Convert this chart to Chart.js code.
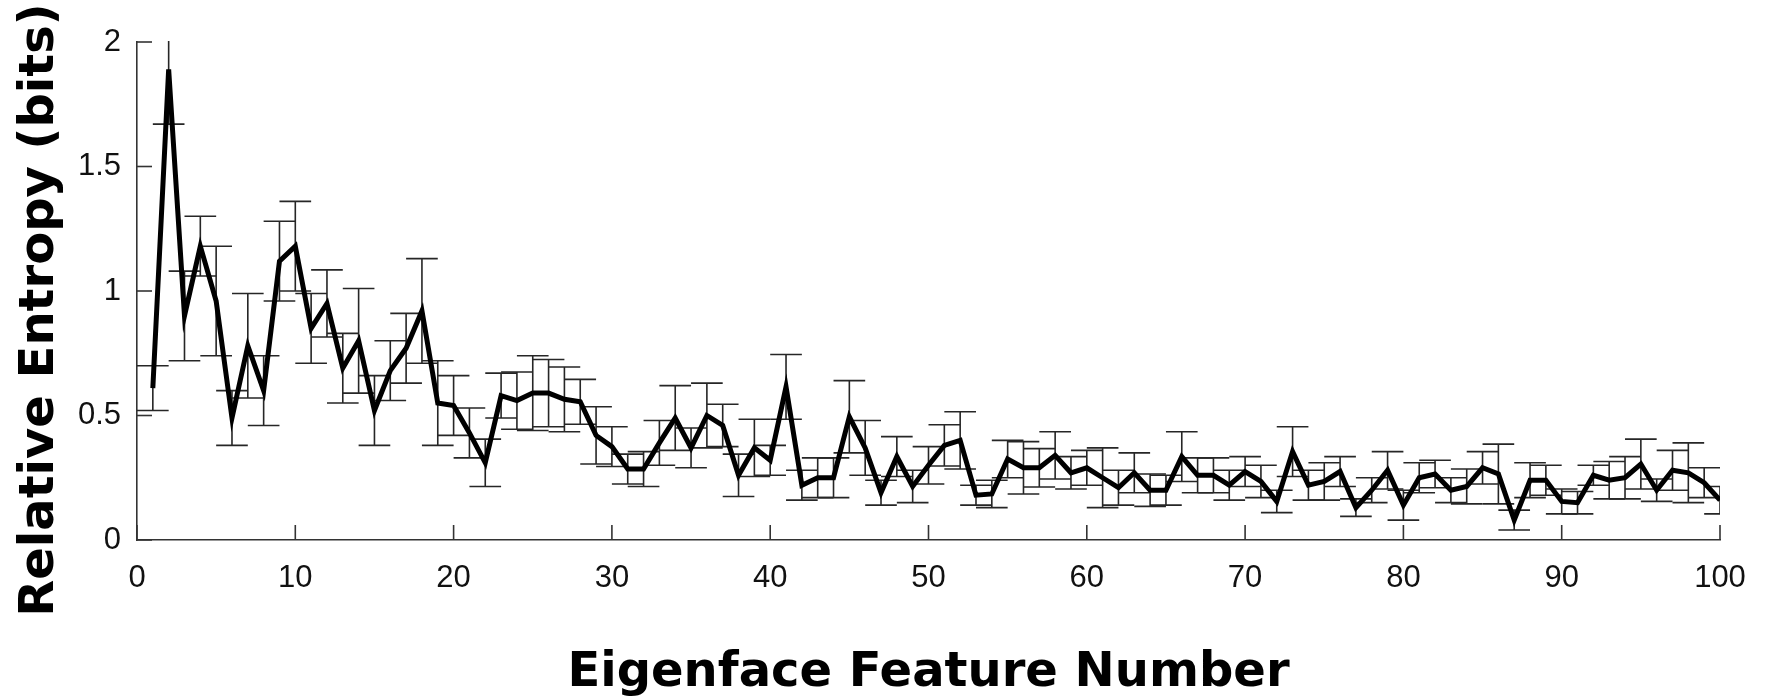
<!DOCTYPE html>
<html>
<head>
<meta charset="utf-8">
<script src="https://cdn.jsdelivr.net/npm/chart.js@4.4.0/dist/chart.umd.min.js"></script>
<style>
  html, body { margin: 0; padding: 0; background: #fff; }
  #wrap { width: 1769px; height: 697px; }
</style>
</head>
<body>
<div id="wrap"><canvas id="chart"></canvas></div>
<script>
// Eigenface feature numbers
const features = Array.from({ length: 100 }, (_, i) => i + 1);

// Mean relative entropy per feature (bits)
const entropy = [
  0.61, 1.89, 0.90, 1.18, 0.96, 0.49, 0.78, 0.60, 1.12, 1.18,
  0.85, 0.95, 0.69, 0.80, 0.52, 0.68, 0.77, 0.92, 0.55, 0.54,
  0.43, 0.31, 0.58, 0.56, 0.59, 0.59, 0.565, 0.555, 0.42, 0.375,
  0.285, 0.285, 0.39, 0.49, 0.37, 0.50, 0.46, 0.26, 0.37, 0.32,
  0.615, 0.22, 0.25, 0.25, 0.495, 0.37, 0.19, 0.335, 0.215, 0.30,
  0.38, 0.40, 0.18, 0.185, 0.325, 0.29, 0.29, 0.34, 0.27, 0.29,
  0.25, 0.21, 0.27, 0.20, 0.20, 0.335, 0.26, 0.26, 0.22, 0.275,
  0.235, 0.155, 0.355, 0.22, 0.235, 0.275, 0.13, 0.20, 0.28, 0.14,
  0.25, 0.265, 0.20, 0.215, 0.29, 0.265, 0.08, 0.24, 0.24, 0.155,
  0.15, 0.26, 0.24, 0.25, 0.305, 0.20, 0.28, 0.27, 0.23, 0.16
];

// Error bar half-lengths
const entropyErr = [
  0.09, 0.22, 0.18, 0.12, 0.22, 0.11, 0.21, 0.14, 0.16, 0.18,
  0.14, 0.135, 0.14, 0.21, 0.14, 0.12, 0.14, 0.21, 0.17, 0.12,
  0.10, 0.095, 0.09, 0.115, 0.15, 0.135, 0.13, 0.09, 0.115, 0.08,
  0.06, 0.07, 0.09, 0.13, 0.08, 0.13, 0.085, 0.085, 0.115, 0.06,
  0.13, 0.06, 0.08, 0.08, 0.145, 0.11, 0.05, 0.08, 0.065, 0.075,
  0.083, 0.115, 0.04, 0.055, 0.075, 0.105, 0.077, 0.095, 0.065, 0.07,
  0.12, 0.07, 0.08, 0.065, 0.06, 0.10, 0.07, 0.07, 0.06, 0.06,
  0.065, 0.045, 0.10, 0.06, 0.075, 0.06, 0.035, 0.05, 0.075, 0.06,
  0.06, 0.055, 0.05, 0.07, 0.065, 0.12, 0.04, 0.07, 0.06, 0.05,
  0.045, 0.04, 0.075, 0.085, 0.10, 0.045, 0.08, 0.12, 0.06, 0.055
];

// Tick labels
const xTicks = [0, 10, 20, 30, 40, 50, 60, 70, 80, 90, 100];
const yTicks = [0, 0.5, 1, 1.5, 2];

const xTitle = 'Eigenface Feature Number';
const yTitle = 'Relative Entropy (bits)';

const tickFont = { family: 'Liberation Sans, Arial, sans-serif', size: 31 };
const titleFont = 'bold 48px "DejaVu Sans", Verdana, sans-serif';

// Error bars (drawn under the line) with caps one unit either side
const errorBars = {
  id: 'errorBars',
  beforeDatasetsDraw(chart) {
    const { ctx, chartArea, scales: { x, y } } = chart;
    ctx.save();
    ctx.beginPath();
    ctx.rect(chartArea.left, chartArea.top - 1, chartArea.right - chartArea.left, chartArea.bottom - chartArea.top + 1);
    ctx.clip();
    ctx.strokeStyle = '#262626';
    ctx.lineWidth = 1.6;
    features.forEach((f, i) => {
      const px = x.getPixelForValue(f);
      const left = x.getPixelForValue(f - 1);
      const right = x.getPixelForValue(f + 1);
      const top = y.getPixelForValue(entropy[i] + entropyErr[i]);
      const bot = y.getPixelForValue(entropy[i] - entropyErr[i]);
      ctx.beginPath();
      ctx.moveTo(px, top); ctx.lineTo(px, bot);
      ctx.moveTo(left, top); ctx.lineTo(right, top);
      ctx.moveTo(left, bot); ctx.lineTo(right, bot);
      ctx.stroke();
    });
    ctx.restore();
  }
};

// Inward tick marks and axis titles
const axisDecor = {
  id: 'axisDecor',
  afterDraw(chart) {
    const { ctx, chartArea, scales: { x, y } } = chart;
    ctx.save();
    ctx.strokeStyle = '#333';
    ctx.lineWidth = 1.6;
    xTicks.forEach(v => {
      const px = x.getPixelForValue(v);
      ctx.beginPath();
      ctx.moveTo(px, chartArea.bottom);
      ctx.lineTo(px, chartArea.bottom - 15);
      ctx.stroke();
    });
    yTicks.forEach(v => {
      const py = y.getPixelForValue(v);
      ctx.beginPath();
      ctx.moveTo(chartArea.left, py);
      ctx.lineTo(chartArea.left + 15, py);
      ctx.stroke();
    });

    ctx.fillStyle = '#000';
    ctx.font = titleFont;
    ctx.textAlign = 'center';
    ctx.textBaseline = 'alphabetic';
    ctx.fillText(xTitle, (chartArea.left + chartArea.right) / 2, 686);

    ctx.translate(53, 310);
    ctx.rotate(-Math.PI / 2);
    ctx.fillText(yTitle, 0, 0);
    ctx.restore();
  }
};

new Chart(document.getElementById('chart'), {
  type: 'line',
  data: {
    datasets: [{
      data: features.map((f, i) => ({ x: f, y: entropy[i] })),
      borderColor: '#000',
      borderWidth: 5,
      pointRadius: 0,
      tension: 0,
      fill: false
    }]
  },
  options: {
    responsive: true,
    maintainAspectRatio: false,
    devicePixelRatio: 1,
    animation: false,
    layout: { padding: { top: 42, right: 49, left: 0, bottom: 0 } },
    plugins: { legend: { display: false }, tooltip: { enabled: false } },
    scales: {
      x: {
        type: 'linear',
        min: 0,
        max: 100,
        afterBuildTicks: s => { s.ticks = xTicks.map(v => ({ value: v })); },
        afterFit: s => { s.height = 157; },
        grid: { display: false, drawTicks: false },
        border: { display: true, color: '#333', width: 1.6 },
        ticks: { font: tickFont, color: '#111', padding: 20, maxRotation: 0, callback: v => String(v) }
      },
      y: {
        type: 'linear',
        min: 0,
        max: 2,
        afterBuildTicks: s => { s.ticks = yTicks.map(v => ({ value: v })); },
        afterFit: s => { s.width = 137; },
        grid: { display: false, drawTicks: false },
        border: { display: true, color: '#333', width: 1.6 },
        ticks: { font: tickFont, color: '#111', padding: 16, callback: v => String(v) }
      }
    }
  },
  plugins: [errorBars, axisDecor]
});
</script>
</body>
</html>
